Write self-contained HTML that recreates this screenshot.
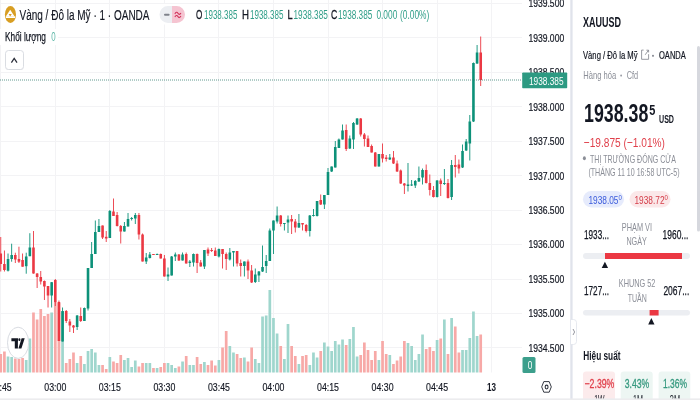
<!DOCTYPE html>
<html><head><meta charset="utf-8"><title>XAUUSD chart</title>
<style>
html,body{margin:0;padding:0;background:#fff;width:700px;height:400px;overflow:hidden}
svg{display:block;font-family:"Liberation Sans", Arial, sans-serif;filter:blur(0.45px)}
</style></head>
<body>
<svg width="700" height="400" viewBox="0 0 700 400">
<rect width="700" height="400" fill="#fff"/>
<line x1="0" y1="3.5" x2="522" y2="3.5" stroke="#f3f3f5" stroke-width="1"/>
<line x1="0" y1="37.5" x2="522" y2="37.5" stroke="#f3f3f5" stroke-width="1"/>
<line x1="0" y1="72.5" x2="522" y2="72.5" stroke="#f3f3f5" stroke-width="1"/>
<line x1="0" y1="106.5" x2="522" y2="106.5" stroke="#f3f3f5" stroke-width="1"/>
<line x1="0" y1="141.5" x2="522" y2="141.5" stroke="#f3f3f5" stroke-width="1"/>
<line x1="0" y1="175.5" x2="522" y2="175.5" stroke="#f3f3f5" stroke-width="1"/>
<line x1="0" y1="210.5" x2="522" y2="210.5" stroke="#f3f3f5" stroke-width="1"/>
<line x1="0" y1="244.5" x2="522" y2="244.5" stroke="#f3f3f5" stroke-width="1"/>
<line x1="0" y1="279.5" x2="522" y2="279.5" stroke="#f3f3f5" stroke-width="1"/>
<line x1="0" y1="313.5" x2="522" y2="313.5" stroke="#f3f3f5" stroke-width="1"/>
<line x1="0" y1="347.5" x2="522" y2="347.5" stroke="#f3f3f5" stroke-width="1"/>
<line x1="0.5" y1="0" x2="0.5" y2="372.5" stroke="#f3f3f5" stroke-width="1"/>
<line x1="55.5" y1="0" x2="55.5" y2="372.5" stroke="#f3f3f5" stroke-width="1"/>
<line x1="109.5" y1="0" x2="109.5" y2="372.5" stroke="#f3f3f5" stroke-width="1"/>
<line x1="164.5" y1="0" x2="164.5" y2="372.5" stroke="#f3f3f5" stroke-width="1"/>
<line x1="218.5" y1="0" x2="218.5" y2="372.5" stroke="#f3f3f5" stroke-width="1"/>
<line x1="273.5" y1="0" x2="273.5" y2="372.5" stroke="#f3f3f5" stroke-width="1"/>
<line x1="328.5" y1="0" x2="328.5" y2="372.5" stroke="#f3f3f5" stroke-width="1"/>
<line x1="382.5" y1="0" x2="382.5" y2="372.5" stroke="#f3f3f5" stroke-width="1"/>
<line x1="437.5" y1="0" x2="437.5" y2="372.5" stroke="#f3f3f5" stroke-width="1"/>
<line x1="491.5" y1="0" x2="491.5" y2="372.5" stroke="#f3f3f5" stroke-width="1"/>
<rect x="-0.59" y="354.00" width="2.7" height="18.50" fill="#f7a9a7"/>
<rect x="3.05" y="351.50" width="2.7" height="21.00" fill="#f7a9a7"/>
<rect x="6.68" y="356.50" width="2.7" height="16.00" fill="#9fd6cd"/>
<rect x="10.32" y="357.00" width="2.7" height="15.50" fill="#9fd6cd"/>
<rect x="13.95" y="358.50" width="2.7" height="14.00" fill="#f7a9a7"/>
<rect x="17.59" y="359.00" width="2.7" height="13.50" fill="#f7a9a7"/>
<rect x="21.23" y="358.00" width="2.7" height="14.50" fill="#f7a9a7"/>
<rect x="24.86" y="360.00" width="2.7" height="12.50" fill="#9fd6cd"/>
<rect x="28.50" y="338.50" width="2.7" height="34.00" fill="#9fd6cd"/>
<rect x="32.13" y="312.50" width="2.7" height="60.00" fill="#f7a9a7"/>
<rect x="35.77" y="319.50" width="2.7" height="53.00" fill="#f7a9a7"/>
<rect x="39.41" y="309.00" width="2.7" height="63.50" fill="#f7a9a7"/>
<rect x="43.04" y="316.00" width="2.7" height="56.50" fill="#f7a9a7"/>
<rect x="46.68" y="314.00" width="2.7" height="58.50" fill="#f7a9a7"/>
<rect x="50.31" y="312.50" width="2.7" height="60.00" fill="#9fd6cd"/>
<rect x="53.95" y="303.00" width="2.7" height="69.50" fill="#f7a9a7"/>
<rect x="57.59" y="303.00" width="2.7" height="69.50" fill="#f7a9a7"/>
<rect x="61.22" y="312.00" width="2.7" height="60.50" fill="#9fd6cd"/>
<rect x="64.86" y="363.00" width="2.7" height="9.50" fill="#f7a9a7"/>
<rect x="68.49" y="359.00" width="2.7" height="13.50" fill="#f7a9a7"/>
<rect x="72.13" y="352.50" width="2.7" height="20.00" fill="#f7a9a7"/>
<rect x="75.77" y="363.00" width="2.7" height="9.50" fill="#9fd6cd"/>
<rect x="79.40" y="356.00" width="2.7" height="16.50" fill="#f7a9a7"/>
<rect x="83.04" y="364.00" width="2.7" height="8.50" fill="#9fd6cd"/>
<rect x="86.67" y="351.00" width="2.7" height="21.50" fill="#9fd6cd"/>
<rect x="90.31" y="349.00" width="2.7" height="23.50" fill="#9fd6cd"/>
<rect x="93.95" y="352.50" width="2.7" height="20.00" fill="#9fd6cd"/>
<rect x="97.58" y="365.00" width="2.7" height="7.50" fill="#9fd6cd"/>
<rect x="101.22" y="365.00" width="2.7" height="7.50" fill="#f7a9a7"/>
<rect x="104.85" y="369.00" width="2.7" height="3.50" fill="#f7a9a7"/>
<rect x="108.49" y="357.00" width="2.7" height="15.50" fill="#9fd6cd"/>
<rect x="112.13" y="361.50" width="2.7" height="11.00" fill="#f7a9a7"/>
<rect x="115.76" y="363.00" width="2.7" height="9.50" fill="#f7a9a7"/>
<rect x="119.40" y="355.00" width="2.7" height="17.50" fill="#f7a9a7"/>
<rect x="123.03" y="360.00" width="2.7" height="12.50" fill="#9fd6cd"/>
<rect x="126.67" y="358.00" width="2.7" height="14.50" fill="#9fd6cd"/>
<rect x="130.31" y="367.00" width="2.7" height="5.50" fill="#9fd6cd"/>
<rect x="133.94" y="360.50" width="2.7" height="12.00" fill="#9fd6cd"/>
<rect x="137.58" y="366.50" width="2.7" height="6.00" fill="#f7a9a7"/>
<rect x="141.21" y="363.00" width="2.7" height="9.50" fill="#f7a9a7"/>
<rect x="144.85" y="363.00" width="2.7" height="9.50" fill="#9fd6cd"/>
<rect x="148.49" y="363.00" width="2.7" height="9.50" fill="#9fd6cd"/>
<rect x="152.12" y="368.00" width="2.7" height="4.50" fill="#f7a9a7"/>
<rect x="155.76" y="368.00" width="2.7" height="4.50" fill="#9fd6cd"/>
<rect x="159.39" y="367.00" width="2.7" height="5.50" fill="#f7a9a7"/>
<rect x="163.03" y="363.00" width="2.7" height="9.50" fill="#f7a9a7"/>
<rect x="166.67" y="363.00" width="2.7" height="9.50" fill="#9fd6cd"/>
<rect x="170.30" y="365.00" width="2.7" height="7.50" fill="#9fd6cd"/>
<rect x="173.94" y="368.00" width="2.7" height="4.50" fill="#9fd6cd"/>
<rect x="177.57" y="366.50" width="2.7" height="6.00" fill="#f7a9a7"/>
<rect x="181.21" y="361.50" width="2.7" height="11.00" fill="#9fd6cd"/>
<rect x="184.85" y="356.00" width="2.7" height="16.50" fill="#f7a9a7"/>
<rect x="188.48" y="365.00" width="2.7" height="7.50" fill="#9fd6cd"/>
<rect x="192.12" y="365.00" width="2.7" height="7.50" fill="#9fd6cd"/>
<rect x="195.75" y="357.00" width="2.7" height="15.50" fill="#f7a9a7"/>
<rect x="199.39" y="364.00" width="2.7" height="8.50" fill="#f7a9a7"/>
<rect x="203.03" y="362.00" width="2.7" height="10.50" fill="#9fd6cd"/>
<rect x="206.66" y="365.00" width="2.7" height="7.50" fill="#f7a9a7"/>
<rect x="210.30" y="360.50" width="2.7" height="12.00" fill="#f7a9a7"/>
<rect x="213.93" y="365.50" width="2.7" height="7.00" fill="#f7a9a7"/>
<rect x="217.57" y="360.00" width="2.7" height="12.50" fill="#9fd6cd"/>
<rect x="221.21" y="347.50" width="2.7" height="25.00" fill="#f7a9a7"/>
<rect x="224.84" y="331.00" width="2.7" height="41.50" fill="#f7a9a7"/>
<rect x="228.48" y="346.00" width="2.7" height="26.50" fill="#9fd6cd"/>
<rect x="232.11" y="352.50" width="2.7" height="20.00" fill="#9fd6cd"/>
<rect x="235.75" y="354.00" width="2.7" height="18.50" fill="#f7a9a7"/>
<rect x="239.39" y="358.00" width="2.7" height="14.50" fill="#f7a9a7"/>
<rect x="243.02" y="357.50" width="2.7" height="15.00" fill="#9fd6cd"/>
<rect x="246.66" y="361.50" width="2.7" height="11.00" fill="#f7a9a7"/>
<rect x="250.29" y="347.50" width="2.7" height="25.00" fill="#f7a9a7"/>
<rect x="253.93" y="359.00" width="2.7" height="13.50" fill="#9fd6cd"/>
<rect x="257.57" y="363.00" width="2.7" height="9.50" fill="#9fd6cd"/>
<rect x="261.20" y="316.50" width="2.7" height="56.00" fill="#9fd6cd"/>
<rect x="264.84" y="315.50" width="2.7" height="57.00" fill="#9fd6cd"/>
<rect x="268.47" y="290.00" width="2.7" height="82.50" fill="#9fd6cd"/>
<rect x="272.11" y="318.00" width="2.7" height="54.50" fill="#9fd6cd"/>
<rect x="275.75" y="333.50" width="2.7" height="39.00" fill="#9fd6cd"/>
<rect x="279.38" y="346.00" width="2.7" height="26.50" fill="#f7a9a7"/>
<rect x="283.02" y="359.00" width="2.7" height="13.50" fill="#9fd6cd"/>
<rect x="286.65" y="324.00" width="2.7" height="48.50" fill="#9fd6cd"/>
<rect x="290.29" y="346.00" width="2.7" height="26.50" fill="#f7a9a7"/>
<rect x="293.93" y="356.00" width="2.7" height="16.50" fill="#f7a9a7"/>
<rect x="297.56" y="364.00" width="2.7" height="8.50" fill="#9fd6cd"/>
<rect x="301.20" y="356.00" width="2.7" height="16.50" fill="#f7a9a7"/>
<rect x="304.83" y="355.00" width="2.7" height="17.50" fill="#f7a9a7"/>
<rect x="308.47" y="365.00" width="2.7" height="7.50" fill="#9fd6cd"/>
<rect x="312.11" y="352.50" width="2.7" height="20.00" fill="#9fd6cd"/>
<rect x="315.74" y="357.50" width="2.7" height="15.00" fill="#9fd6cd"/>
<rect x="319.38" y="351.00" width="2.7" height="21.50" fill="#f7a9a7"/>
<rect x="323.01" y="342.50" width="2.7" height="30.00" fill="#9fd6cd"/>
<rect x="326.65" y="346.50" width="2.7" height="26.00" fill="#9fd6cd"/>
<rect x="330.29" y="351.00" width="2.7" height="21.50" fill="#9fd6cd"/>
<rect x="333.92" y="341.00" width="2.7" height="31.50" fill="#9fd6cd"/>
<rect x="337.56" y="344.50" width="2.7" height="28.00" fill="#9fd6cd"/>
<rect x="341.19" y="339.50" width="2.7" height="33.00" fill="#9fd6cd"/>
<rect x="344.83" y="345.00" width="2.7" height="27.50" fill="#f7a9a7"/>
<rect x="348.47" y="339.00" width="2.7" height="33.50" fill="#9fd6cd"/>
<rect x="352.10" y="327.00" width="2.7" height="45.50" fill="#9fd6cd"/>
<rect x="355.74" y="356.50" width="2.7" height="16.00" fill="#9fd6cd"/>
<rect x="359.37" y="355.00" width="2.7" height="17.50" fill="#f7a9a7"/>
<rect x="363.01" y="342.50" width="2.7" height="30.00" fill="#f7a9a7"/>
<rect x="366.65" y="350.00" width="2.7" height="22.50" fill="#f7a9a7"/>
<rect x="370.28" y="360.00" width="2.7" height="12.50" fill="#f7a9a7"/>
<rect x="373.92" y="351.00" width="2.7" height="21.50" fill="#f7a9a7"/>
<rect x="377.55" y="360.00" width="2.7" height="12.50" fill="#9fd6cd"/>
<rect x="381.19" y="341.00" width="2.7" height="31.50" fill="#f7a9a7"/>
<rect x="384.83" y="354.00" width="2.7" height="18.50" fill="#f7a9a7"/>
<rect x="388.46" y="355.00" width="2.7" height="17.50" fill="#9fd6cd"/>
<rect x="392.10" y="364.00" width="2.7" height="8.50" fill="#f7a9a7"/>
<rect x="395.73" y="360.50" width="2.7" height="12.00" fill="#f7a9a7"/>
<rect x="399.37" y="356.50" width="2.7" height="16.00" fill="#f7a9a7"/>
<rect x="403.01" y="341.00" width="2.7" height="31.50" fill="#f7a9a7"/>
<rect x="406.64" y="343.00" width="2.7" height="29.50" fill="#9fd6cd"/>
<rect x="410.28" y="346.00" width="2.7" height="26.50" fill="#9fd6cd"/>
<rect x="413.91" y="360.00" width="2.7" height="12.50" fill="#9fd6cd"/>
<rect x="417.55" y="354.00" width="2.7" height="18.50" fill="#9fd6cd"/>
<rect x="421.19" y="334.50" width="2.7" height="38.00" fill="#9fd6cd"/>
<rect x="424.82" y="349.00" width="2.7" height="23.50" fill="#f7a9a7"/>
<rect x="428.46" y="347.00" width="2.7" height="25.50" fill="#f7a9a7"/>
<rect x="432.09" y="351.00" width="2.7" height="21.50" fill="#f7a9a7"/>
<rect x="435.73" y="340.00" width="2.7" height="32.50" fill="#9fd6cd"/>
<rect x="439.37" y="338.50" width="2.7" height="34.00" fill="#f7a9a7"/>
<rect x="443.00" y="319.50" width="2.7" height="53.00" fill="#9fd6cd"/>
<rect x="446.64" y="354.00" width="2.7" height="18.50" fill="#f7a9a7"/>
<rect x="450.27" y="318.00" width="2.7" height="54.50" fill="#9fd6cd"/>
<rect x="453.91" y="326.50" width="2.7" height="46.00" fill="#f7a9a7"/>
<rect x="457.55" y="352.50" width="2.7" height="20.00" fill="#f7a9a7"/>
<rect x="461.18" y="350.00" width="2.7" height="22.50" fill="#9fd6cd"/>
<rect x="464.82" y="350.00" width="2.7" height="22.50" fill="#9fd6cd"/>
<rect x="468.45" y="338.00" width="2.7" height="34.50" fill="#9fd6cd"/>
<rect x="472.09" y="311.50" width="2.7" height="61.00" fill="#9fd6cd"/>
<rect x="475.73" y="336.00" width="2.7" height="36.50" fill="#9fd6cd"/>
<rect x="479.36" y="334.50" width="2.7" height="38.00" fill="#f7a9a7"/>
<rect x="0.31" y="237.00" width="0.9" height="34.50" fill="#eb3843"/>
<rect x="-0.54" y="253.50" width="2.6" height="10.50" fill="#eb3843"/>
<rect x="3.95" y="250.50" width="0.9" height="21.00" fill="#eb3843"/>
<rect x="3.10" y="264.00" width="2.6" height="6.00" fill="#eb3843"/>
<rect x="7.58" y="253.50" width="0.9" height="18.00" fill="#0d9179"/>
<rect x="6.73" y="259.00" width="2.6" height="11.70" fill="#0d9179"/>
<rect x="11.22" y="243.70" width="0.9" height="18.00" fill="#0d9179"/>
<rect x="10.37" y="255.00" width="2.6" height="4.00" fill="#0d9179"/>
<rect x="14.85" y="252.70" width="0.9" height="10.30" fill="#eb3843"/>
<rect x="14.00" y="255.00" width="2.6" height="4.50" fill="#eb3843"/>
<rect x="18.49" y="246.70" width="0.9" height="16.30" fill="#eb3843"/>
<rect x="17.64" y="259.00" width="2.6" height="2.70" fill="#eb3843"/>
<rect x="22.13" y="253.50" width="0.9" height="13.20" fill="#eb3843"/>
<rect x="21.28" y="260.00" width="2.6" height="6.70" fill="#eb3843"/>
<rect x="25.76" y="252.70" width="0.9" height="21.00" fill="#0d9179"/>
<rect x="24.91" y="256.50" width="2.6" height="9.70" fill="#0d9179"/>
<rect x="29.40" y="233.20" width="0.9" height="23.00" fill="#0d9179"/>
<rect x="28.55" y="247.50" width="2.6" height="8.70" fill="#0d9179"/>
<rect x="33.03" y="231.00" width="0.9" height="42.70" fill="#eb3843"/>
<rect x="32.18" y="247.50" width="2.6" height="26.00" fill="#eb3843"/>
<rect x="36.67" y="273.00" width="0.9" height="15.00" fill="#eb3843"/>
<rect x="35.82" y="273.50" width="2.6" height="3.50" fill="#eb3843"/>
<rect x="40.31" y="271.00" width="0.9" height="13.50" fill="#eb3843"/>
<rect x="39.46" y="277.00" width="2.6" height="4.50" fill="#eb3843"/>
<rect x="43.94" y="280.50" width="0.9" height="19.50" fill="#eb3843"/>
<rect x="43.09" y="281.00" width="2.6" height="5.50" fill="#eb3843"/>
<rect x="47.58" y="286.00" width="0.9" height="21.50" fill="#eb3843"/>
<rect x="46.73" y="286.00" width="2.6" height="9.50" fill="#eb3843"/>
<rect x="51.21" y="282.00" width="0.9" height="25.50" fill="#0d9179"/>
<rect x="50.36" y="282.20" width="2.6" height="13.30" fill="#0d9179"/>
<rect x="54.85" y="279.00" width="0.9" height="27.00" fill="#eb3843"/>
<rect x="54.00" y="280.00" width="2.6" height="22.50" fill="#eb3843"/>
<rect x="58.49" y="300.50" width="0.9" height="40.50" fill="#eb3843"/>
<rect x="57.64" y="302.00" width="2.6" height="39.00" fill="#eb3843"/>
<rect x="62.12" y="307.50" width="0.9" height="34.00" fill="#0d9179"/>
<rect x="61.27" y="311.00" width="2.6" height="30.50" fill="#0d9179"/>
<rect x="65.76" y="310.00" width="0.9" height="13.00" fill="#eb3843"/>
<rect x="64.91" y="311.00" width="2.6" height="10.00" fill="#eb3843"/>
<rect x="69.39" y="319.00" width="0.9" height="13.00" fill="#eb3843"/>
<rect x="68.54" y="321.50" width="2.6" height="4.00" fill="#eb3843"/>
<rect x="73.03" y="325.00" width="0.9" height="8.00" fill="#eb3843"/>
<rect x="72.18" y="325.50" width="2.6" height="2.00" fill="#eb3843"/>
<rect x="76.67" y="315.00" width="0.9" height="15.00" fill="#0d9179"/>
<rect x="75.82" y="315.50" width="2.6" height="11.50" fill="#0d9179"/>
<rect x="80.30" y="307.50" width="0.9" height="14.50" fill="#eb3843"/>
<rect x="79.45" y="316.00" width="2.6" height="5.00" fill="#eb3843"/>
<rect x="83.94" y="307.50" width="0.9" height="13.50" fill="#0d9179"/>
<rect x="83.09" y="308.00" width="2.6" height="13.00" fill="#0d9179"/>
<rect x="87.57" y="268.00" width="0.9" height="42.50" fill="#0d9179"/>
<rect x="86.72" y="268.00" width="2.6" height="40.50" fill="#0d9179"/>
<rect x="91.21" y="242.00" width="0.9" height="26.00" fill="#0d9179"/>
<rect x="90.36" y="254.00" width="2.6" height="14.00" fill="#0d9179"/>
<rect x="94.85" y="220.50" width="0.9" height="33.50" fill="#0d9179"/>
<rect x="94.00" y="232.00" width="2.6" height="22.00" fill="#0d9179"/>
<rect x="98.48" y="219.00" width="0.9" height="13.00" fill="#0d9179"/>
<rect x="97.63" y="226.00" width="2.6" height="6.00" fill="#0d9179"/>
<rect x="102.12" y="225.50" width="0.9" height="13.50" fill="#eb3843"/>
<rect x="101.27" y="225.50" width="2.6" height="12.00" fill="#eb3843"/>
<rect x="105.75" y="231.00" width="0.9" height="11.00" fill="#eb3843"/>
<rect x="104.90" y="236.80" width="2.6" height="1.70" fill="#eb3843"/>
<rect x="109.39" y="210.00" width="0.9" height="28.00" fill="#0d9179"/>
<rect x="108.54" y="211.00" width="2.6" height="27.00" fill="#0d9179"/>
<rect x="113.03" y="198.50" width="0.9" height="17.50" fill="#eb3843"/>
<rect x="112.18" y="211.50" width="2.6" height="4.50" fill="#eb3843"/>
<rect x="116.66" y="212.00" width="0.9" height="14.50" fill="#eb3843"/>
<rect x="115.81" y="215.00" width="2.6" height="11.00" fill="#eb3843"/>
<rect x="120.30" y="225.00" width="0.9" height="18.50" fill="#eb3843"/>
<rect x="119.45" y="226.00" width="2.6" height="5.50" fill="#eb3843"/>
<rect x="123.93" y="222.00" width="0.9" height="9.50" fill="#0d9179"/>
<rect x="123.08" y="226.00" width="2.6" height="5.50" fill="#0d9179"/>
<rect x="127.57" y="213.00" width="0.9" height="13.50" fill="#0d9179"/>
<rect x="126.72" y="219.00" width="2.6" height="7.50" fill="#0d9179"/>
<rect x="131.21" y="217.00" width="0.9" height="3.50" fill="#0d9179"/>
<rect x="130.36" y="218.00" width="2.6" height="1.00" fill="#0d9179"/>
<rect x="134.84" y="213.00" width="0.9" height="11.00" fill="#0d9179"/>
<rect x="133.99" y="215.00" width="2.6" height="3.50" fill="#0d9179"/>
<rect x="138.48" y="213.00" width="0.9" height="26.50" fill="#eb3843"/>
<rect x="137.63" y="215.00" width="2.6" height="19.50" fill="#eb3843"/>
<rect x="142.11" y="233.50" width="0.9" height="28.00" fill="#eb3843"/>
<rect x="141.26" y="234.50" width="2.6" height="27.00" fill="#eb3843"/>
<rect x="145.75" y="253.00" width="0.9" height="11.00" fill="#0d9179"/>
<rect x="144.90" y="257.50" width="2.6" height="4.00" fill="#0d9179"/>
<rect x="149.39" y="252.00" width="0.9" height="6.50" fill="#0d9179"/>
<rect x="148.54" y="254.50" width="2.6" height="3.50" fill="#0d9179"/>
<rect x="153.02" y="254.00" width="0.9" height="1.00" fill="#eb3843"/>
<rect x="152.17" y="254.00" width="2.6" height="1.00" fill="#eb3843"/>
<rect x="156.66" y="253.50" width="0.9" height="1.50" fill="#0d9179"/>
<rect x="155.81" y="254.00" width="2.6" height="1.00" fill="#0d9179"/>
<rect x="160.29" y="253.50" width="0.9" height="5.00" fill="#eb3843"/>
<rect x="159.44" y="254.00" width="2.6" height="4.50" fill="#eb3843"/>
<rect x="163.93" y="255.00" width="0.9" height="21.50" fill="#eb3843"/>
<rect x="163.08" y="258.50" width="2.6" height="18.00" fill="#eb3843"/>
<rect x="167.57" y="267.50" width="0.9" height="13.50" fill="#0d9179"/>
<rect x="166.72" y="274.50" width="2.6" height="2.00" fill="#0d9179"/>
<rect x="171.20" y="256.00" width="0.9" height="19.50" fill="#0d9179"/>
<rect x="170.35" y="256.50" width="2.6" height="19.00" fill="#0d9179"/>
<rect x="174.84" y="252.50" width="0.9" height="8.50" fill="#0d9179"/>
<rect x="173.99" y="254.50" width="2.6" height="2.00" fill="#0d9179"/>
<rect x="178.47" y="254.00" width="0.9" height="7.00" fill="#eb3843"/>
<rect x="177.62" y="254.50" width="2.6" height="6.00" fill="#eb3843"/>
<rect x="182.11" y="252.50" width="0.9" height="8.00" fill="#0d9179"/>
<rect x="181.26" y="254.50" width="2.6" height="6.00" fill="#0d9179"/>
<rect x="185.75" y="252.50" width="0.9" height="11.00" fill="#eb3843"/>
<rect x="184.90" y="254.00" width="2.6" height="9.50" fill="#eb3843"/>
<rect x="189.38" y="260.00" width="0.9" height="7.00" fill="#0d9179"/>
<rect x="188.53" y="261.50" width="2.6" height="1.50" fill="#0d9179"/>
<rect x="193.02" y="253.50" width="0.9" height="13.00" fill="#0d9179"/>
<rect x="192.17" y="254.00" width="2.6" height="8.50" fill="#0d9179"/>
<rect x="196.65" y="253.50" width="0.9" height="19.50" fill="#eb3843"/>
<rect x="195.80" y="254.00" width="2.6" height="9.00" fill="#eb3843"/>
<rect x="200.29" y="260.00" width="0.9" height="6.50" fill="#eb3843"/>
<rect x="199.44" y="262.50" width="2.6" height="4.00" fill="#eb3843"/>
<rect x="203.93" y="250.00" width="0.9" height="19.00" fill="#0d9179"/>
<rect x="203.08" y="250.00" width="2.6" height="16.50" fill="#0d9179"/>
<rect x="207.56" y="247.50" width="0.9" height="8.50" fill="#eb3843"/>
<rect x="206.71" y="249.50" width="2.6" height="4.00" fill="#eb3843"/>
<rect x="211.20" y="248.00" width="0.9" height="4.00" fill="#eb3843"/>
<rect x="210.35" y="250.00" width="2.6" height="1.00" fill="#eb3843"/>
<rect x="214.83" y="247.50" width="0.9" height="8.50" fill="#eb3843"/>
<rect x="213.98" y="250.50" width="2.6" height="5.50" fill="#eb3843"/>
<rect x="218.47" y="248.50" width="0.9" height="9.00" fill="#0d9179"/>
<rect x="217.62" y="249.00" width="2.6" height="7.50" fill="#0d9179"/>
<rect x="222.11" y="249.00" width="0.9" height="19.50" fill="#eb3843"/>
<rect x="221.26" y="249.00" width="2.6" height="5.00" fill="#eb3843"/>
<rect x="225.74" y="252.50" width="0.9" height="17.50" fill="#eb3843"/>
<rect x="224.89" y="254.00" width="2.6" height="5.00" fill="#eb3843"/>
<rect x="229.38" y="248.00" width="0.9" height="12.50" fill="#0d9179"/>
<rect x="228.53" y="252.50" width="2.6" height="7.00" fill="#0d9179"/>
<rect x="233.01" y="251.00" width="0.9" height="15.50" fill="#0d9179"/>
<rect x="232.16" y="251.00" width="2.6" height="1.50" fill="#0d9179"/>
<rect x="236.65" y="251.00" width="0.9" height="15.50" fill="#eb3843"/>
<rect x="235.80" y="251.00" width="2.6" height="12.50" fill="#eb3843"/>
<rect x="240.29" y="259.50" width="0.9" height="17.00" fill="#eb3843"/>
<rect x="239.44" y="263.00" width="2.6" height="3.00" fill="#eb3843"/>
<rect x="243.92" y="261.50" width="0.9" height="15.00" fill="#0d9179"/>
<rect x="243.07" y="261.50" width="2.6" height="4.50" fill="#0d9179"/>
<rect x="247.56" y="259.50" width="0.9" height="19.50" fill="#eb3843"/>
<rect x="246.71" y="261.50" width="2.6" height="9.00" fill="#eb3843"/>
<rect x="251.19" y="265.00" width="0.9" height="18.00" fill="#eb3843"/>
<rect x="250.34" y="270.50" width="2.6" height="12.00" fill="#eb3843"/>
<rect x="254.83" y="268.50" width="0.9" height="14.50" fill="#0d9179"/>
<rect x="253.98" y="274.50" width="2.6" height="7.50" fill="#0d9179"/>
<rect x="258.47" y="271.00" width="0.9" height="11.00" fill="#0d9179"/>
<rect x="257.62" y="271.50" width="2.6" height="4.00" fill="#0d9179"/>
<rect x="262.10" y="245.50" width="0.9" height="26.50" fill="#0d9179"/>
<rect x="261.25" y="267.00" width="2.6" height="4.50" fill="#0d9179"/>
<rect x="265.74" y="255.00" width="0.9" height="18.00" fill="#0d9179"/>
<rect x="264.89" y="261.00" width="2.6" height="5.00" fill="#0d9179"/>
<rect x="269.37" y="228.50" width="0.9" height="32.50" fill="#0d9179"/>
<rect x="268.52" y="230.50" width="2.6" height="30.50" fill="#0d9179"/>
<rect x="273.01" y="220.50" width="0.9" height="33.50" fill="#0d9179"/>
<rect x="272.16" y="220.50" width="2.6" height="10.00" fill="#0d9179"/>
<rect x="276.65" y="206.50" width="0.9" height="17.00" fill="#0d9179"/>
<rect x="275.80" y="215.50" width="2.6" height="6.00" fill="#0d9179"/>
<rect x="280.28" y="215.00" width="0.9" height="11.50" fill="#eb3843"/>
<rect x="279.43" y="215.50" width="2.6" height="8.50" fill="#eb3843"/>
<rect x="283.92" y="223.00" width="0.9" height="7.50" fill="#0d9179"/>
<rect x="283.07" y="223.00" width="2.6" height="1.00" fill="#0d9179"/>
<rect x="287.55" y="215.50" width="0.9" height="17.50" fill="#0d9179"/>
<rect x="286.70" y="219.50" width="2.6" height="3.00" fill="#0d9179"/>
<rect x="291.19" y="215.00" width="0.9" height="19.00" fill="#eb3843"/>
<rect x="290.34" y="219.00" width="2.6" height="2.50" fill="#eb3843"/>
<rect x="294.83" y="219.00" width="0.9" height="13.50" fill="#eb3843"/>
<rect x="293.98" y="221.50" width="2.6" height="6.00" fill="#eb3843"/>
<rect x="298.46" y="214.00" width="0.9" height="14.00" fill="#0d9179"/>
<rect x="297.61" y="223.00" width="2.6" height="4.50" fill="#0d9179"/>
<rect x="302.10" y="223.00" width="0.9" height="7.50" fill="#eb3843"/>
<rect x="301.25" y="223.00" width="2.6" height="1.50" fill="#eb3843"/>
<rect x="305.73" y="224.00" width="0.9" height="8.50" fill="#eb3843"/>
<rect x="304.88" y="225.00" width="2.6" height="6.00" fill="#eb3843"/>
<rect x="309.37" y="215.00" width="0.9" height="21.50" fill="#0d9179"/>
<rect x="308.52" y="215.50" width="2.6" height="15.50" fill="#0d9179"/>
<rect x="313.01" y="209.00" width="0.9" height="7.50" fill="#0d9179"/>
<rect x="312.16" y="215.00" width="2.6" height="1.00" fill="#0d9179"/>
<rect x="316.64" y="201.00" width="0.9" height="15.50" fill="#0d9179"/>
<rect x="315.79" y="201.00" width="2.6" height="15.00" fill="#0d9179"/>
<rect x="320.28" y="194.50" width="0.9" height="10.50" fill="#eb3843"/>
<rect x="319.43" y="200.00" width="2.6" height="4.50" fill="#eb3843"/>
<rect x="323.91" y="195.00" width="0.9" height="14.00" fill="#0d9179"/>
<rect x="323.06" y="195.00" width="2.6" height="9.50" fill="#0d9179"/>
<rect x="327.55" y="168.00" width="0.9" height="27.00" fill="#0d9179"/>
<rect x="326.70" y="172.00" width="2.6" height="23.00" fill="#0d9179"/>
<rect x="331.19" y="166.50" width="0.9" height="5.50" fill="#0d9179"/>
<rect x="330.34" y="166.50" width="2.6" height="5.00" fill="#0d9179"/>
<rect x="334.82" y="141.00" width="0.9" height="26.50" fill="#0d9179"/>
<rect x="333.97" y="147.00" width="2.6" height="20.50" fill="#0d9179"/>
<rect x="338.46" y="138.50" width="0.9" height="9.50" fill="#0d9179"/>
<rect x="337.61" y="139.50" width="2.6" height="8.50" fill="#0d9179"/>
<rect x="342.09" y="124.50" width="0.9" height="15.00" fill="#0d9179"/>
<rect x="341.24" y="130.50" width="2.6" height="9.00" fill="#0d9179"/>
<rect x="345.73" y="124.50" width="0.9" height="26.50" fill="#eb3843"/>
<rect x="344.88" y="130.00" width="2.6" height="19.00" fill="#eb3843"/>
<rect x="349.37" y="135.50" width="0.9" height="13.50" fill="#0d9179"/>
<rect x="348.52" y="138.50" width="2.6" height="10.00" fill="#0d9179"/>
<rect x="353.00" y="122.00" width="0.9" height="27.00" fill="#0d9179"/>
<rect x="352.15" y="123.00" width="2.6" height="16.50" fill="#0d9179"/>
<rect x="356.64" y="118.00" width="0.9" height="7.00" fill="#0d9179"/>
<rect x="355.79" y="118.50" width="2.6" height="6.00" fill="#0d9179"/>
<rect x="360.27" y="118.00" width="0.9" height="18.50" fill="#eb3843"/>
<rect x="359.42" y="118.50" width="2.6" height="16.00" fill="#eb3843"/>
<rect x="363.91" y="133.00" width="0.9" height="13.50" fill="#eb3843"/>
<rect x="363.06" y="134.50" width="2.6" height="4.50" fill="#eb3843"/>
<rect x="367.55" y="135.50" width="0.9" height="11.50" fill="#eb3843"/>
<rect x="366.70" y="138.50" width="2.6" height="8.50" fill="#eb3843"/>
<rect x="371.18" y="144.50" width="0.9" height="8.00" fill="#eb3843"/>
<rect x="370.33" y="146.00" width="2.6" height="6.50" fill="#eb3843"/>
<rect x="374.82" y="152.00" width="0.9" height="14.50" fill="#eb3843"/>
<rect x="373.97" y="152.50" width="2.6" height="14.00" fill="#eb3843"/>
<rect x="378.45" y="154.00" width="0.9" height="12.50" fill="#0d9179"/>
<rect x="377.60" y="154.00" width="2.6" height="12.50" fill="#0d9179"/>
<rect x="382.09" y="143.50" width="0.9" height="19.00" fill="#eb3843"/>
<rect x="381.24" y="154.00" width="2.6" height="4.50" fill="#eb3843"/>
<rect x="385.73" y="155.00" width="0.9" height="6.50" fill="#eb3843"/>
<rect x="384.88" y="157.50" width="2.6" height="1.50" fill="#eb3843"/>
<rect x="389.36" y="154.00" width="0.9" height="6.00" fill="#0d9179"/>
<rect x="388.51" y="157.50" width="2.6" height="2.00" fill="#0d9179"/>
<rect x="393.00" y="151.00" width="0.9" height="13.00" fill="#eb3843"/>
<rect x="392.15" y="157.50" width="2.6" height="6.00" fill="#eb3843"/>
<rect x="396.63" y="160.50" width="0.9" height="11.50" fill="#eb3843"/>
<rect x="395.78" y="163.50" width="2.6" height="8.00" fill="#eb3843"/>
<rect x="400.27" y="169.50" width="0.9" height="14.50" fill="#eb3843"/>
<rect x="399.42" y="170.50" width="2.6" height="13.00" fill="#eb3843"/>
<rect x="403.91" y="183.00" width="0.9" height="11.00" fill="#eb3843"/>
<rect x="403.06" y="183.50" width="2.6" height="2.00" fill="#eb3843"/>
<rect x="407.54" y="163.00" width="0.9" height="28.50" fill="#0d9179"/>
<rect x="406.69" y="184.50" width="2.6" height="1.50" fill="#0d9179"/>
<rect x="411.18" y="180.00" width="0.9" height="6.00" fill="#0d9179"/>
<rect x="410.33" y="184.50" width="2.6" height="1.00" fill="#0d9179"/>
<rect x="414.81" y="180.00" width="0.9" height="8.00" fill="#0d9179"/>
<rect x="413.96" y="181.00" width="2.6" height="4.50" fill="#0d9179"/>
<rect x="418.45" y="166.50" width="0.9" height="15.50" fill="#0d9179"/>
<rect x="417.60" y="178.00" width="2.6" height="3.50" fill="#0d9179"/>
<rect x="422.09" y="168.50" width="0.9" height="16.00" fill="#0d9179"/>
<rect x="421.24" y="170.00" width="2.6" height="7.50" fill="#0d9179"/>
<rect x="425.72" y="164.50" width="0.9" height="19.00" fill="#eb3843"/>
<rect x="424.87" y="170.00" width="2.6" height="13.00" fill="#eb3843"/>
<rect x="429.36" y="174.50" width="0.9" height="21.00" fill="#eb3843"/>
<rect x="428.51" y="183.00" width="2.6" height="7.00" fill="#eb3843"/>
<rect x="432.99" y="186.00" width="0.9" height="11.50" fill="#eb3843"/>
<rect x="432.14" y="190.00" width="2.6" height="7.00" fill="#eb3843"/>
<rect x="436.63" y="180.00" width="0.9" height="17.50" fill="#0d9179"/>
<rect x="435.78" y="180.50" width="2.6" height="16.50" fill="#0d9179"/>
<rect x="440.27" y="178.50" width="0.9" height="17.50" fill="#eb3843"/>
<rect x="439.42" y="180.50" width="2.6" height="3.50" fill="#eb3843"/>
<rect x="443.90" y="169.00" width="0.9" height="16.00" fill="#0d9179"/>
<rect x="443.05" y="183.00" width="2.6" height="1.00" fill="#0d9179"/>
<rect x="447.54" y="179.00" width="0.9" height="19.50" fill="#eb3843"/>
<rect x="446.69" y="183.00" width="2.6" height="15.00" fill="#eb3843"/>
<rect x="451.17" y="160.00" width="0.9" height="40.00" fill="#0d9179"/>
<rect x="450.32" y="165.00" width="2.6" height="32.00" fill="#0d9179"/>
<rect x="454.81" y="155.00" width="0.9" height="22.50" fill="#eb3843"/>
<rect x="453.96" y="165.00" width="2.6" height="2.00" fill="#eb3843"/>
<rect x="458.45" y="159.50" width="0.9" height="14.00" fill="#eb3843"/>
<rect x="457.60" y="164.50" width="2.6" height="4.00" fill="#eb3843"/>
<rect x="462.08" y="144.50" width="0.9" height="23.50" fill="#0d9179"/>
<rect x="461.23" y="151.00" width="2.6" height="16.50" fill="#0d9179"/>
<rect x="465.72" y="139.00" width="0.9" height="12.00" fill="#0d9179"/>
<rect x="464.87" y="141.50" width="2.6" height="9.00" fill="#0d9179"/>
<rect x="469.35" y="115.00" width="0.9" height="45.50" fill="#0d9179"/>
<rect x="468.50" y="121.50" width="2.6" height="22.00" fill="#0d9179"/>
<rect x="472.99" y="62.50" width="0.9" height="59.50" fill="#0d9179"/>
<rect x="472.14" y="63.00" width="2.6" height="58.50" fill="#0d9179"/>
<rect x="476.63" y="45.00" width="0.9" height="19.00" fill="#0d9179"/>
<rect x="475.78" y="52.50" width="2.6" height="11.00" fill="#0d9179"/>
<rect x="480.26" y="36.50" width="0.9" height="49.50" fill="#eb3843"/>
<rect x="479.41" y="52.50" width="2.6" height="27.50" fill="#eb3843"/>
<line x1="0" y1="80" x2="522" y2="80" stroke="#3f8576" stroke-width="0.9" stroke-dasharray="1 1" opacity="0.9"/>
<ellipse cx="10.45" cy="14.5" rx="5.55" ry="8.4" fill="#d89e22"/>
<path d="M10.2 9.7 L14.6 16.6 L5.8 16.6 Z" fill="#fff"/>
<rect x="5.9" y="16.3" width="9.2" height="1.7" fill="#fff"/>
<path d="M8.6 13.9 H11.8 L10.2 16.5 Z" fill="#d89e22"/>
<text x="19.50" y="19.60" font-size="14.00" fill="#131722" textLength="130.00" lengthAdjust="spacingAndGlyphs" stroke="#131722" stroke-width="0.15">Vàng / Đô la Mỹ · 1 · OANDA</text>
<rect x="158" y="4" width="29" height="20.5" fill="#fff"/>
<path d="M168 6 H172 V23 H168 A8.5 8.5 0 0 1 168 6 Z" fill="#eceef2"/>
<path d="M172 6 H176.5 A8.5 8.5 0 0 1 176.5 23 H172 Z" fill="#f5c4d1"/>
<rect x="164" y="13.7" width="5.6" height="2.1" rx="1" fill="#7f828b"/>
<path d="M174.9 13.9 C175.9 11.9 177.1 11.9 177.9 13.3 S179.9 14.9 180.9 12.9 M174.9 17.1 C175.9 15.1 177.1 15.1 177.9 16.5 S179.9 18.1 180.9 16.1" fill="none" stroke="#d0335a" stroke-width="1.1"/>
<text x="196.00" y="19.30" font-size="13.60" fill="#131722" textLength="6.30" lengthAdjust="spacingAndGlyphs" stroke="#131722" stroke-width="0.3">O</text>
<text x="204.00" y="19.30" font-size="13.60" fill="#2f9e88" textLength="33.40" lengthAdjust="spacingAndGlyphs">1938.385</text>
<text x="242.00" y="19.30" font-size="13.60" fill="#131722" textLength="7.00" lengthAdjust="spacingAndGlyphs" stroke="#131722" stroke-width="0.3">H</text>
<text x="250.00" y="19.30" font-size="13.60" fill="#2f9e88" textLength="33.40" lengthAdjust="spacingAndGlyphs">1938.385</text>
<text x="287.40" y="19.30" font-size="13.60" fill="#131722" textLength="5.10" lengthAdjust="spacingAndGlyphs" stroke="#131722" stroke-width="0.3">L</text>
<text x="293.50" y="19.30" font-size="13.60" fill="#2f9e88" textLength="34.30" lengthAdjust="spacingAndGlyphs">1938.385</text>
<text x="331.00" y="19.30" font-size="13.60" fill="#131722" textLength="6.30" lengthAdjust="spacingAndGlyphs" stroke="#131722" stroke-width="0.3">C</text>
<text x="338.00" y="19.30" font-size="13.60" fill="#2f9e88" textLength="34.30" lengthAdjust="spacingAndGlyphs">1938.385</text>
<text x="376.40" y="19.30" font-size="13.60" fill="#2f9e88" textLength="20.90" lengthAdjust="spacingAndGlyphs">0.000</text>
<text x="400.00" y="19.30" font-size="13.60" fill="#2f9e88" textLength="29.30" lengthAdjust="spacingAndGlyphs">(0.00%)</text>
<rect x="0" y="29" width="58" height="16" fill="#fff"/>
<text x="5.00" y="41.30" font-size="12.00" fill="#131722" textLength="41.00" lengthAdjust="spacingAndGlyphs" stroke="#131722" stroke-width="0.25">Khối lượng</text>
<text x="51.30" y="41.30" font-size="12.00" fill="#5fb8a8" textLength="4.40" lengthAdjust="spacingAndGlyphs">0</text>
<rect x="5.5" y="51" width="18" height="19" rx="3" fill="#e6e8ec"/>
<rect x="5.5" y="50.5" width="18" height="19" rx="3" fill="#fff" stroke="#d6d9df" stroke-width="0.9"/>
<polyline points="11.4,62.6 14.2,58.4 17,62.6" fill="none" stroke="#2a2e39" stroke-width="1.25"/>
<ellipse cx="18.1" cy="342.8" rx="10.6" ry="15.6" fill="#fff" stroke="#d4d7de" stroke-width="0.9"/>
<path d="M11.4 338.3 H18 V341.3 H11.4 Z M14.8 338.3 H17.9 V348.5 H14.8 Z M21.6 338.3 H24.7 L21.4 348.5 H18.4 Z" fill="#131722"/>
<ellipse cx="19.4" cy="339.7" rx="1.05" ry="1.35" fill="#131722"/>
<text x="528.40" y="7.13" font-size="11.80" fill="#131722" textLength="35.80" lengthAdjust="spacingAndGlyphs" stroke="#131722" stroke-width="0.22">1939.500</text>
<text x="528.40" y="41.60" font-size="11.80" fill="#131722" textLength="35.80" lengthAdjust="spacingAndGlyphs" stroke="#131722" stroke-width="0.22">1939.000</text>
<text x="528.40" y="76.08" font-size="11.80" fill="#131722" textLength="35.80" lengthAdjust="spacingAndGlyphs" stroke="#131722" stroke-width="0.22">1938.500</text>
<text x="528.40" y="110.55" font-size="11.80" fill="#131722" textLength="35.80" lengthAdjust="spacingAndGlyphs" stroke="#131722" stroke-width="0.22">1938.000</text>
<text x="528.40" y="145.03" font-size="11.80" fill="#131722" textLength="35.80" lengthAdjust="spacingAndGlyphs" stroke="#131722" stroke-width="0.22">1937.500</text>
<text x="528.40" y="179.50" font-size="11.80" fill="#131722" textLength="35.80" lengthAdjust="spacingAndGlyphs" stroke="#131722" stroke-width="0.22">1937.000</text>
<text x="528.40" y="213.97" font-size="11.80" fill="#131722" textLength="35.80" lengthAdjust="spacingAndGlyphs" stroke="#131722" stroke-width="0.22">1936.500</text>
<text x="528.40" y="248.45" font-size="11.80" fill="#131722" textLength="35.80" lengthAdjust="spacingAndGlyphs" stroke="#131722" stroke-width="0.22">1936.000</text>
<text x="528.40" y="282.93" font-size="11.80" fill="#131722" textLength="35.80" lengthAdjust="spacingAndGlyphs" stroke="#131722" stroke-width="0.22">1935.500</text>
<text x="528.40" y="317.40" font-size="11.80" fill="#131722" textLength="35.80" lengthAdjust="spacingAndGlyphs" stroke="#131722" stroke-width="0.22">1935.000</text>
<text x="528.40" y="351.88" font-size="11.80" fill="#131722" textLength="35.80" lengthAdjust="spacingAndGlyphs" stroke="#131722" stroke-width="0.22">1934.500</text>
<rect x="522.2" y="72.4" width="45" height="15.8" rx="0.8" fill="#2d9a82"/>
<text x="529.00" y="84.50" font-size="11.80" fill="#fff" textLength="34.60" lengthAdjust="spacingAndGlyphs">1938.385</text>
<rect x="522.5" y="357" width="13" height="16" rx="1.5" fill="#3c9f8c"/>
<text x="527.70" y="369.20" font-size="11.20" fill="#fff" textLength="4.60" lengthAdjust="spacingAndGlyphs">0</text>
<path d="M543.8 381.6 H549.2 L551.3 386.9 L549.2 392.2 H543.8 L541.7 386.9 Z" fill="none" stroke="#2a2e39" stroke-width="0.95"/>
<ellipse cx="546.6" cy="387" rx="1.45" ry="1.9" fill="none" stroke="#2a2e39" stroke-width="1.05"/>
<text x="-10.24" y="390.70" font-size="11.80" fill="#131722" textLength="22.00" lengthAdjust="spacingAndGlyphs" stroke="#131722" stroke-width="0.18">02:45</text>
<text x="44.30" y="390.70" font-size="11.80" fill="#131722" textLength="22.00" lengthAdjust="spacingAndGlyphs" stroke="#131722" stroke-width="0.18">03:00</text>
<text x="98.84" y="390.70" font-size="11.80" fill="#131722" textLength="22.00" lengthAdjust="spacingAndGlyphs" stroke="#131722" stroke-width="0.18">03:15</text>
<text x="153.38" y="390.70" font-size="11.80" fill="#131722" textLength="22.00" lengthAdjust="spacingAndGlyphs" stroke="#131722" stroke-width="0.18">03:30</text>
<text x="207.92" y="390.70" font-size="11.80" fill="#131722" textLength="22.00" lengthAdjust="spacingAndGlyphs" stroke="#131722" stroke-width="0.18">03:45</text>
<text x="262.46" y="390.70" font-size="11.80" fill="#131722" textLength="22.00" lengthAdjust="spacingAndGlyphs" stroke="#131722" stroke-width="0.18">04:00</text>
<text x="317.00" y="390.70" font-size="11.80" fill="#131722" textLength="22.00" lengthAdjust="spacingAndGlyphs" stroke="#131722" stroke-width="0.18">04:15</text>
<text x="371.54" y="390.70" font-size="11.80" fill="#131722" textLength="22.00" lengthAdjust="spacingAndGlyphs" stroke="#131722" stroke-width="0.18">04:30</text>
<text x="426.08" y="390.70" font-size="11.80" fill="#131722" textLength="22.00" lengthAdjust="spacingAndGlyphs" stroke="#131722" stroke-width="0.18">04:45</text>
<text x="487.00" y="390.70" font-size="11.80" fill="#131722" font-weight="bold" textLength="9.00" lengthAdjust="spacingAndGlyphs">13</text>
<rect x="570.3" y="0" width="2.3" height="400" fill="#e0e3eb"/>
<path d="M570.5 319.5 H573.5 A3 3 0 0 1 576.5 322.5 V341.5 A3 3 0 0 1 573.5 344.5 H570.5 Z" fill="#fff" stroke="#e0e3eb" stroke-width="0.8"/>
<polyline points="573,329 574.6,332 573,335" fill="none" stroke="#787b86" stroke-width="0.8"/>
<text x="583.00" y="26.60" font-size="14.60" fill="#131722" font-weight="bold" textLength="38.00" lengthAdjust="spacingAndGlyphs">XAUUSD</text>
<text x="583.00" y="58.80" font-size="10.00" fill="#131722" textLength="54.50" lengthAdjust="spacingAndGlyphs" stroke="#131722" stroke-width="0.2">Vàng / Đô la Mỹ</text>
<path d="M643.6 50.1 H641.6 V59.3 H648.6 V54.2 M645.2 54.8 L648.4 50.3 M646.4 50.2 H648.6 V52.4" fill="none" stroke="#7d8089" stroke-width="0.8"/>
<ellipse cx="653" cy="55.8" rx="0.9" ry="1.15" fill="#787b86"/>
<text x="659.00" y="58.80" font-size="10.00" fill="#131722" textLength="26.80" lengthAdjust="spacingAndGlyphs" stroke="#131722" stroke-width="0.2">OANDA</text>
<text x="583.30" y="79.20" font-size="10.30" fill="#8b8e97" textLength="32.90" lengthAdjust="spacingAndGlyphs">Hàng hóa</text>
<ellipse cx="621.1" cy="75.6" rx="0.9" ry="1.15" fill="#9598a1"/>
<text x="626.80" y="79.20" font-size="10.00" fill="#8b8e97" textLength="11.40" lengthAdjust="spacingAndGlyphs">Cfd</text>
<text x="584.00" y="122.30" font-size="25.20" fill="#131722" font-weight="bold" textLength="64.30" lengthAdjust="spacingAndGlyphs">1938.38</text>
<text x="649.20" y="114.80" font-size="15.20" fill="#131722" font-weight="bold" textLength="6.10" lengthAdjust="spacingAndGlyphs">5</text>
<text x="659.00" y="123.30" font-size="10.80" fill="#131722" font-weight="bold" textLength="15.00" lengthAdjust="spacingAndGlyphs">USD</text>
<text x="583.80" y="147.00" font-size="13.40" fill="#e0404b" textLength="81.20" lengthAdjust="spacingAndGlyphs">−19.875 (−1.01%)</text>
<ellipse cx="584.4" cy="158.3" rx="1.5" ry="2" fill="#8b8e97"/>
<text x="590.00" y="162.90" font-size="11.20" fill="#8b8e97" textLength="86.00" lengthAdjust="spacingAndGlyphs">THỊ TRƯỜNG ĐÓNG CỬA</text>
<text x="588.40" y="175.50" font-size="10.60" fill="#8b8e97" textLength="91.10" lengthAdjust="spacingAndGlyphs">(THÁNG 11 10 16:58 UTC-5)</text>
<rect x="583" y="191" width="41" height="16.5" rx="8.25" fill="#e6ebfc"/>
<text x="588.40" y="203.60" font-size="11.80" fill="#3b5bdb" textLength="30.10" lengthAdjust="spacingAndGlyphs">1938.05</text>
<text x="618.60" y="199.60" font-size="7.80" fill="#3b5bdb" textLength="3.40" lengthAdjust="spacingAndGlyphs">0</text>
<rect x="629.5" y="191" width="41" height="16.5" rx="8.25" fill="#fbe8e9"/>
<text x="634.50" y="203.60" font-size="11.80" fill="#d43c48" textLength="30.00" lengthAdjust="spacingAndGlyphs">1938.72</text>
<text x="664.60" y="199.60" font-size="7.80" fill="#d43c48" textLength="3.40" lengthAdjust="spacingAndGlyphs">0</text>
<text x="584.00" y="239.00" font-size="12.00" fill="#131722" textLength="25.00" lengthAdjust="spacingAndGlyphs" stroke="#131722" stroke-width="0.25">1933...</text>
<text x="621.80" y="231.00" font-size="10.60" fill="#8b8e97" textLength="30.20" lengthAdjust="spacingAndGlyphs">PHẠM VI</text>
<text x="626.40" y="244.80" font-size="10.60" fill="#8b8e97" textLength="20.40" lengthAdjust="spacingAndGlyphs">NGÀY</text>
<text x="662.50" y="239.00" font-size="12.00" fill="#131722" textLength="25.90" lengthAdjust="spacingAndGlyphs" stroke="#131722" stroke-width="0.25">1960...</text>
<rect x="583" y="253" width="107" height="6" rx="3" fill="#eceef2"/>
<rect x="605" y="253" width="77" height="6" fill="#eb3843"/>
<path d="M604.9 261.8 L608.1 268 L601.7 268 Z" fill="#131722"/>
<text x="584.00" y="295.30" font-size="12.00" fill="#131722" textLength="25.00" lengthAdjust="spacingAndGlyphs" stroke="#131722" stroke-width="0.25">1727...</text>
<text x="618.80" y="287.00" font-size="10.60" fill="#8b8e97" textLength="36.60" lengthAdjust="spacingAndGlyphs">KHUNG 52</text>
<text x="627.70" y="302.00" font-size="10.60" fill="#8b8e97" textLength="19.10" lengthAdjust="spacingAndGlyphs">TUẦN</text>
<text x="663.40" y="295.30" font-size="12.00" fill="#131722" textLength="25.90" lengthAdjust="spacingAndGlyphs" stroke="#131722" stroke-width="0.25">2067...</text>
<rect x="583" y="310" width="107" height="5.5" rx="2.75" fill="#eceef2"/>
<rect x="649.6" y="310" width="9" height="5.5" fill="#eb3843"/>
<path d="M651.35 318 L654.5 324.5 L648.2 324.5 Z" fill="#131722"/>
<text x="583.30" y="360.30" font-size="13.00" fill="#131722" font-weight="bold" textLength="37.20" lengthAdjust="spacingAndGlyphs">Hiệu suất</text>
<rect x="583" y="371.5" width="32" height="40" rx="3" fill="#fcebec"/>
<rect x="620.7" y="371.5" width="32" height="40" rx="3" fill="#edf6f3"/>
<rect x="658.6" y="371.5" width="31.7" height="40" rx="3" fill="#edf6f3"/>
<text x="584.50" y="388.30" font-size="12.40" fill="#e0404b" textLength="29.90" lengthAdjust="spacingAndGlyphs" stroke="#e0404b" stroke-width="0.3">−2.39%</text>
<text x="624.70" y="388.30" font-size="12.40" fill="#35997f" textLength="24.50" lengthAdjust="spacingAndGlyphs" stroke="#35997f" stroke-width="0.3">3.43%</text>
<text x="663.00" y="388.30" font-size="12.40" fill="#35997f" textLength="24.00" lengthAdjust="spacingAndGlyphs" stroke="#35997f" stroke-width="0.3">1.36%</text>
<text x="594.30" y="403.60" font-size="12.00" fill="#131722" textLength="10.30" lengthAdjust="spacingAndGlyphs">1W</text>
<text x="633.00" y="403.60" font-size="12.00" fill="#131722" textLength="10.00" lengthAdjust="spacingAndGlyphs">1M</text>
<text x="669.80" y="403.60" font-size="12.00" fill="#131722" textLength="10.20" lengthAdjust="spacingAndGlyphs">3M</text>
<rect x="0" y="398.4" width="700" height="1.6" fill="#ececee"/>
<rect x="697" y="46" width="3" height="185.5" rx="1.5" fill="#d6d8de"/>
</svg>
</body></html>
